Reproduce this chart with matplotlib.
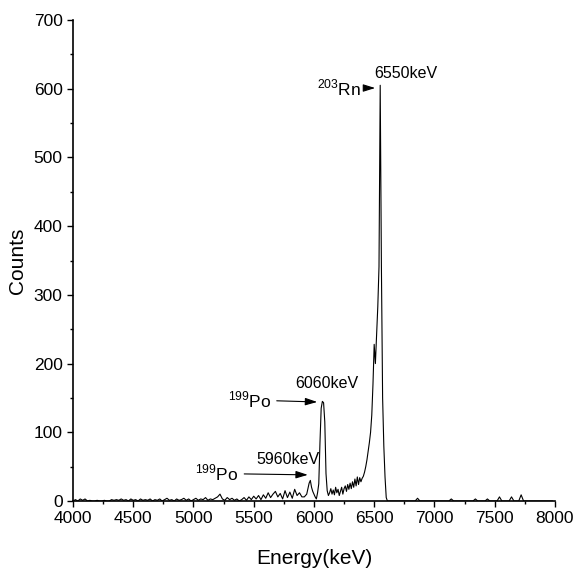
import numpy as np
import matplotlib.pyplot as plt
from matplotlib.ticker import MultipleLocator

plt.rcParams['font.family'] = 'Liberation Sans'
plt.rcParams['mathtext.fontset'] = 'custom'
plt.rcParams['mathtext.rm'] = 'Liberation Sans'

# Background region, 4000-5900 keV in 20 keV steps
bg_energy = np.arange(4000, 5920, 20)
bg_counts = [0, 2, 0, 3, 1, 3, 0, 1, 0, 0,
             1, 0, 0, 1, 0, 0, 2, 1, 2, 1,
             3, 1, 2, 0, 3, 1, 2, 0, 3, 1,
             2, 1, 3, 0, 2, 1, 3, 0, 2, 4,
             1, 2, 0, 3, 1, 2, 4, 1, 3, 0,
             2, 4, 1, 3, 2, 5, 1, 3, 2, 4,
             6, 10, 3, 1, 5, 2, 4, 1, 3, 0,
             2, 5, 1, 6, 2, 7, 3, 8, 2, 9,
             4, 12, 5, 10, 14, 6, 11, 3, 15, 5,
             13, 4, 17, 8, 12, 6]

# Peak region, 5920-6610 keV in 10 keV steps
pk_energy = np.arange(5920, 6620, 10)
pk_counts = [6, 8, 10, 18, 26, 30, 20, 14, 10, 6,
             3, 12, 25, 85, 135, 145, 143, 115, 40, 15,
             8, 12, 18, 10, 16, 9, 20, 12, 17, 8,
             14, 20, 10, 18, 22, 14, 24, 17, 26, 18,
             28, 20, 32, 22, 35, 24, 34, 28, 33, 36,
             42, 50, 60, 72, 85, 100, 125, 170, 228, 200,
             240, 283, 341, 605, 341, 150, 80, 35, 5, 0]

# Tail region, 6620-8000 keV in 20 keV steps
tail_energy = np.arange(6620, 8000, 20)
tail_counts = [0, 0, 0, 0, 0, 0, 0, 0, 0, 0,
               0, 0, 4, 0, 0, 0, 0, 0, 0, 0,
               0, 0, 0, 0, 0, 0, 3, 0, 0, 0,
               0, 0, 0, 0, 0, 0, 3, 0, 0, 0,
               0, 3, 0, 0, 0, 0, 6, 0, 0, 0,
               0, 6, 0, 0, 0, 9, 0, 0, 0, 0,
               0, 0, 0, 0, 0, 0, 0, 0, 0]

energy = np.concatenate([bg_energy, pk_energy, tail_energy])
counts = np.concatenate([bg_counts, pk_counts, tail_counts])

fig = plt.figure(figsize=(5.75, 5.78), dpi=100)
ax = fig.add_axes([0.127, 0.1332, 0.838, 0.8322])

ax.plot(energy, counts, color='black', lw=0.8)

ax.set_xlim(4000, 8000)
ax.set_ylim(0, 700)
ax.xaxis.set_major_locator(MultipleLocator(500))
ax.xaxis.set_minor_locator(MultipleLocator(250))
ax.yaxis.set_major_locator(MultipleLocator(100))
ax.yaxis.set_minor_locator(MultipleLocator(50))
ax.spines['top'].set_visible(False)
ax.spines['right'].set_visible(False)
ax.spines['left'].set_linewidth(1.2)
ax.spines['bottom'].set_linewidth(1.2)
ax.tick_params(which='major', direction='out', length=4.5, width=1, labelsize=12.5, pad=3)
ax.tick_params(which='minor', direction='out', length=2.5, width=1)

ax.set_xlabel('Energy(keV)', fontsize=15, labelpad=16)
ax.set_ylabel('Counts', fontsize=15, labelpad=5)

# Peak annotations
arrow = dict(arrowstyle='-|>,head_length=0.8,head_width=0.25', color='black',
             lw=0.8, mutation_scale=9)
ax.annotate(r'$^{\mathrm{203}}$Rn', xy=(6531, 601), xytext=(6388, 601),
            fontsize=12.5, ha='right', va='center', arrowprops=arrow)
ax.text(6498, 622, '6550keV', fontsize=11.5, ha='left', va='center')

ax.annotate(r'$^{\mathrm{199}}$Po', xy=(6050, 144), xytext=(5645, 147),
            fontsize=12.5, ha='right', va='center', arrowprops=arrow)
ax.text(5842, 171, '6060keV', fontsize=11.5, ha='left', va='center')

ax.annotate(r'$^{\mathrm{199}}$Po', xy=(5972, 38), xytext=(5375, 40),
            fontsize=12.5, ha='right', va='center', arrowprops=arrow)
ax.text(5519, 60, '5960keV', fontsize=11.5, ha='left', va='center')

fig.savefig('out.png', dpi=100)
